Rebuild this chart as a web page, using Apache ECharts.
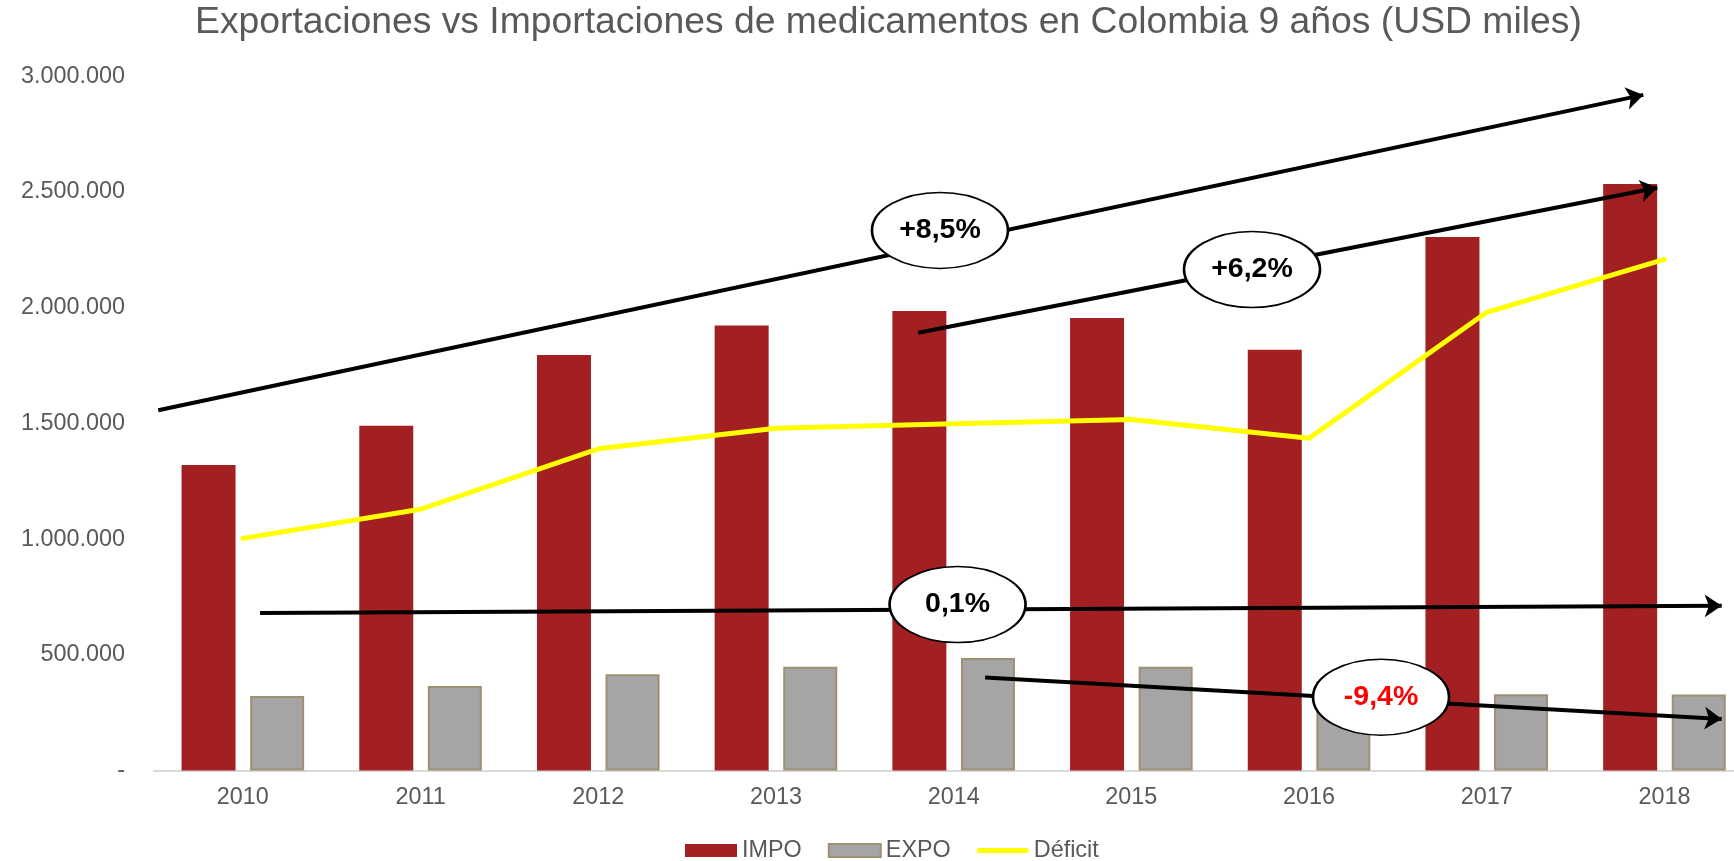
<!DOCTYPE html>
<html>
<head>
<meta charset="utf-8">
<script src="https://cdn.jsdelivr.net/npm/echarts@6/dist/echarts.min.js"></script>
<style>
  html, body { margin: 0; padding: 0; background: #ffffff; }
  #chart { width: 1734px; height: 861px; }
</style>
</head>
<body>
<div id="chart"></div>
<script>
// ---- data ----
const titleText = 'Exportaciones vs Importaciones de medicamentos en Colombia 9 años (USD miles)';
const categories = ['2010', '2011', '2012', '2013', '2014', '2015', '2016', '2017', '2018'];
const impo    = [1320000, 1490000, 1796000, 1923000, 1986000, 1956000, 1818000, 2305000, 2535000];
const expo    = [322000, 365000, 416000, 448000, 486000, 448000, 386000, 329000, 328000];
const deficit = [1003000, 1129000, 1390000, 1479000, 1498000, 1517000, 1436000, 1980000, 2209000];
const yTicks = [0, 500000, 1000000, 1500000, 2000000, 2500000, 3000000];

// annotation arrows (x in category-index units, y in axis units)
const arrowStartX = [-0.476, 3.801, 0.097, 4.177];
const arrowStartY = [1556600, 1892000, 681000, 402400];
const arrowEndX   = [7.881, 7.960, 8.322, 8.322];
const arrowEndY   = [2919700, 2518000, 711600, 222400];

// annotation bubbles
const bubbleText = ['+8,5%', '+6,2%', '0,1%', '-9,4%'];
const bubbleX    = [3.923, 5.679, 4.022, 6.405];
const bubbleY    = [2334000, 2165000, 717000, 317000];

// ---- chart ----
const FONT = '"Liberation Sans", Arial, sans-serif';
const GREY = '#595959';

function fmt(v) {
  if (v === 0) return '-';
  return String(v).replace(/\B(?=(\d{3})+(?!\d))/g, '.');
}

const chart = echarts.init(document.getElementById('chart'), null, { renderer: 'canvas' });

const arrowLines = arrowStartX.map((x, i) => [
  { coord: [x, arrowStartY[i]], symbol: 'none' },
  { coord: [arrowEndX[i], arrowEndY[i]], symbol: 'arrow', symbolSize: 17 }
]);

const bubbles = bubbleText.map((t, i) => ({
  value: [bubbleX[i], bubbleY[i]],
  name: t,
  label: { color: t.charAt(0) === '-' ? '#ff0000' : '#000000' }
}));

const lineIcon = 'path://M2.5,0 L49.5,0 A2.5,2.5 0 0 1 49.5,5 L2.5,5 A2.5,2.5 0 0 1 2.5,0 Z';

const option = {
  animation: false,
  backgroundColor: '#ffffff',
  textStyle: { fontFamily: FONT },
  title: {
    text: titleText,
    left: 195,
    top: 4,
    padding: 0,
    textStyle: { fontFamily: FONT, fontSize: 37.3, fontWeight: 'normal', color: GREY }
  },
  legend: {
    left: 680,
    top: 834,
    itemWidth: 52,
    itemHeight: 13,
    itemGap: 26,
    selectedMode: false,
    textStyle: { fontFamily: FONT, fontSize: 23.4, color: GREY },
    data: [
      { name: 'IMPO', icon: 'rect' },
      { name: 'EXPO', icon: 'rect' },
      { name: 'Déficit', icon: lineIcon }
    ]
  },
  grid: {
    left: 154,
    top: 76.3,
    width: 1599.3,
    height: 694.2,
    containLabel: false,
    outerBoundsMode: 'none'
  },
  xAxis: [
    {
      type: 'category',
      data: categories,
      boundaryGap: true,
      axisLine: { show: true, lineStyle: { color: '#d9d9d9', width: 2 } },
      axisTick: { show: false },
      splitLine: { show: false },
      axisLabel: { margin: 16, fontFamily: FONT, fontSize: 23.4, color: GREY, interval: 0 }
    },
    {
      type: 'value',
      min: -0.5,
      max: 8.5,
      show: false,
      splitLine: { show: false }
    }
  ],
  yAxis: {
    type: 'value',
    min: yTicks[0],
    max: yTicks[yTicks.length - 1],
    interval: yTicks[1] - yTicks[0],
    axisLine: { show: false },
    axisTick: { show: false },
    splitLine: { show: false },
    axisLabel: { margin: 29, fontFamily: FONT, fontSize: 23.4, color: GREY, formatter: fmt }
  },
  series: [
    {
      name: 'IMPO',
      type: 'bar',
      data: impo,
      barWidth: 54,
      barGap: '27%',
      z: 2,
      itemStyle: { color: '#a21f22' },
      silent: true
    },
    {
      name: 'EXPO',
      type: 'bar',
      data: expo,
      barWidth: 54,
      barGap: '27%',
      z: 2,
      itemStyle: { color: '#a5a5a5', borderColor: '#9e9070', borderWidth: 2 },
      silent: true
    },
    {
      name: 'Déficit',
      type: 'line',
      data: deficit,
      symbol: 'none',
      showSymbol: false,
      z: 3,
      lineStyle: { color: '#ffff00', width: 5, cap: 'round', join: 'round' },
      itemStyle: { color: '#ffff00' },
      silent: true
    },
    {
      name: 'arrows',
      type: 'line',
      xAxisIndex: 1,
      data: [],
      z: 4,
      silent: true,
      markLine: {
        silent: true,
        animation: false,
        symbol: ['none', 'arrow'],
        label: { show: false },
        lineStyle: { color: '#000000', width: 4, type: 'solid' },
        emphasis: { disabled: true },
        data: arrowLines
      }
    },
    {
      name: 'bubbles',
      type: 'scatter',
      xAxisIndex: 1,
      z: 5,
      silent: true,
      symbol: 'path://M0,38 A68,38 0 1,1 136,38 A68,38 0 1,1 0,38 Z',
      symbolSize: [136, 76],
      itemStyle: { color: '#ffffff', borderColor: '#000000', borderWidth: 2, opacity: 1 },
      label: {
        show: true,
        position: 'inside',
        formatter: p => p.name,
        fontFamily: FONT,
        fontSize: 28.5,
        fontWeight: 'bold'
      },
      data: bubbles
    }
  ]
};

chart.setOption(option);
</script>
</body>
</html>
